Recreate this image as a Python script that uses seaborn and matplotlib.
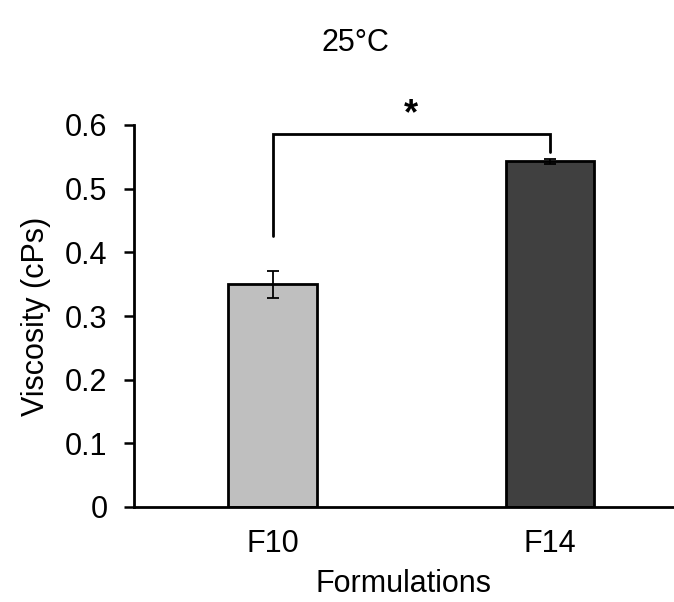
import matplotlib
matplotlib.use("Agg")
import matplotlib.pyplot as plt
import seaborn as sns
import pandas as pd

categories = ["F10", "F14"]
viscosity = [0.350, 0.543]
errors = [0.021, 0.004]
bar_colors = ["#bfbfbf", "#404040"]
title = "25°C"
xlabel = "Formulations"
ylabel = "Viscosity (cPs)"
yticks = [0, 0.1, 0.2, 0.3, 0.4, 0.5, 0.6]
ytick_labels = ["0", "0.1", "0.2", "0.3", "0.4", "0.5", "0.6"]
sig_label = "*"
bracket_top = 0.586
bracket_left_bottom = 0.426
bracket_right_bottom = 0.558

sns.set_theme(style="white")
plt.rcParams["font.family"] = ["Liberation Sans", "DejaVu Sans"]
plt.rcParams["text.color"] = "black"
plt.rcParams["axes.labelcolor"] = "black"
plt.rcParams["xtick.color"] = "black"
plt.rcParams["ytick.color"] = "black"

FS = 22

df = pd.DataFrame({"Formulation": categories, "Viscosity": viscosity})

fig = plt.figure(figsize=(6.74, 6.02), dpi=100)
ax = fig.add_axes([134 / 674, 95 / 602, 1 - 134 / 674, (507 - 125) / 602])

sns.barplot(data=df, x="Formulation", y="Viscosity", hue="Formulation",
            palette=bar_colors, errorbar=None, width=0.32, legend=False,
            edgecolor="black", linewidth=2.0, ax=ax)
ax.errorbar(x=range(len(categories)), y=viscosity, yerr=errors, fmt="none",
            ecolor="black", elinewidth=1.3, capsize=4, capthick=1.3, zorder=5)

ax.set_xlim(-0.5, 1.447)
ax.set_ylim(0, 0.6)
ax.set_yticks(yticks)
ax.set_yticklabels(ytick_labels)
ax.tick_params(axis="y", direction="out", length=7, width=1.8, labelsize=FS, pad=12, left=True)
ax.tick_params(axis="x", length=0, labelsize=FS, pad=16)
for s in ["top", "right"]:
    ax.spines[s].set_visible(False)
for s in ["left", "bottom"]:
    ax.spines[s].set_color("black")
    ax.spines[s].set_linewidth(2.0)

ax.set_xlabel(xlabel, fontsize=FS, labelpad=7)
ax.set_ylabel(ylabel, fontsize=FS, labelpad=10)

# significance bracket
ax.plot([0, 0, 1, 1], [bracket_left_bottom, bracket_top, bracket_top, bracket_right_bottom],
        color="black", linewidth=2.0, clip_on=False, solid_joinstyle="miter")
ax.text(0.5, bracket_top + 0.002, sig_label, ha="center", va="bottom", fontsize=26,
        fontweight="bold", clip_on=False)

fig.text(355 / 674, 1 - 43 / 602, title, ha="center", va="center", fontsize=FS)

fig.savefig("out.png", dpi=100)
